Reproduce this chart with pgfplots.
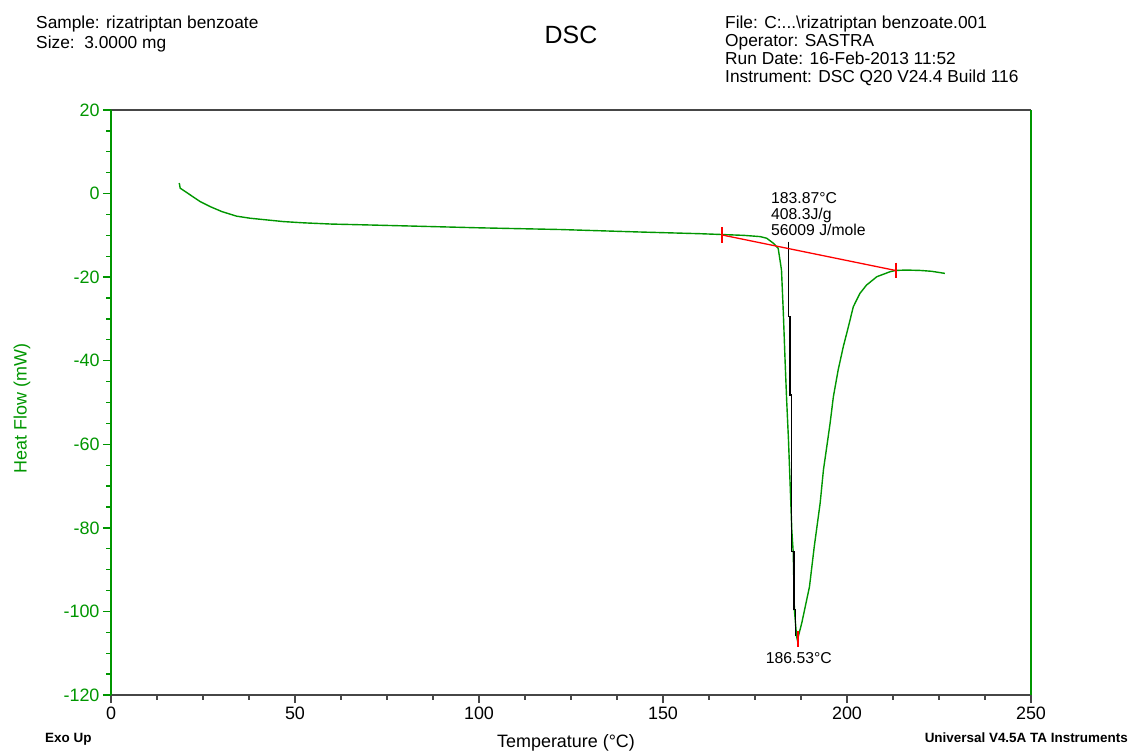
\documentclass[border=0pt]{standalone}
\usepackage{fontspec}
\setmainfont{Liberation Sans}
\usepackage{pgfplots}
\pgfplotsset{compat=1.18}
\definecolor{dscgreen}{RGB}{0,150,0}
\definecolor{axgray}{RGB}{70,70,70}
\definecolor{tickred}{RGB}{255,0,0}
\begin{document}
\begin{tikzpicture}
\useasboundingbox (0,0) rectangle (1129bp,-751bp);
% header
\node[anchor=base west, font=\fontsize{17.4}{17.4}\selectfont, inner sep=0] at (36bp,-28.5bp) {Sample: rizatriptan benzoate};
\node[anchor=base west, font=\fontsize{17.4}{17.4}\selectfont, inner sep=0] at (36bp,-48.5bp) {Size:\ \ 3.0000 mg};
\node[anchor=base, font=\fontsize{25}{25}\selectfont, inner sep=0] at (571bp,-43bp) {DSC};
\node[anchor=base west, font=\fontsize{17.4}{17.4}\selectfont, inner sep=0] at (725bp,-28bp) {File: C:...\textbackslash rizatriptan benzoate.001};
\node[anchor=base west, font=\fontsize{17.4}{17.4}\selectfont, inner sep=0] at (725bp,-46bp) {Operator: SASTRA};
\node[anchor=base west, font=\fontsize{17.4}{17.4}\selectfont, inner sep=0] at (725bp,-64bp) {Run Date: 16-Feb-2013 11:52};
\node[anchor=base west, font=\fontsize{17.4}{17.4}\selectfont, inner sep=0] at (725bp,-82bp) {Instrument: DSC Q20 V24.4 Build 116};
% footer
\node[anchor=base west, font=\bfseries\fontsize{13.5}{13.5}\selectfont, inner sep=0] at (45bp,-742.5bp) {Exo Up};
\node[anchor=base east, font=\bfseries\fontsize{13.5}{13.5}\selectfont, inner sep=0] at (1128bp,-742.5bp) {Universal V4.5A TA Instruments};
\begin{axis}[
  at={(111bp,-695bp)}, anchor=south west,
  scale only axis, width=920bp, height=585bp,
  xmin=0, xmax=250, ymin=-120, ymax=20,
  xtick={0,50,...,250}, ytick={-120,-100,...,20},
  minor x tick num=3, minor y tick num=3,
  xtick pos=bottom, ytick pos=left, tick align=outside,
  major tick length=8bp, minor tick length=4.5bp,
  separate axis lines,
  x axis line style={axgray, line width=1.5bp},
  y axis line style={dscgreen, line width=1.5bp},
  xtick style={axgray, line width=1.3bp},
  ytick style={dscgreen, line width=1.3bp},
  /pgf/number format/assume math mode=true,
  ticklabel style={font=\fontsize{18}{18}\selectfont},
  yticklabel style={dscgreen},
  xlabel={Temperature (°C)},
  xlabel style={at={(axis description cs:0.4946,-0.0889)}, anchor=base, font=\fontsize{18}{18}\selectfont, inner sep=0},
  ylabel={Heat Flow (mW)},
  ylabel style={at={(axis description cs:-0.0967,0.49)}, anchor=center, dscgreen, font=\fontsize{18}{18}\selectfont},
]
\addplot[dscgreen, line width=1.4bp, mark=none] coordinates {
(18.5,2.5) (18.6,2.3) (18.8,1.3) (21.5,-0.3) (24.2,-1.9) (26.9,-3.1) (30.1,-4.3)
(34.1,-5.4) (37.8,-5.9) (42.3,-6.3) (46.8,-6.7) (52.3,-7.0) (60.0,-7.3) (65.0,-7.4)
(78.5,-7.7) (100.3,-8.2) (122,-8.6) (143.8,-9.2) (160,-9.6) (166,-9.8) (172,-10.0)
(176.4,-10.3) (178.2,-10.7) (180.0,-11.9) (181.3,-13.1) (182.2,-18.3) (182.7,-28.6)
(183.2,-40.6) (183.6,-49.4) (184.1,-59.0) (184.5,-68.5) (185.0,-80.5) (185.4,-86.1)
(185.7,-99.6) (186.3,-106.0) (186.5,-106.8) (186.7,-106.2) (187.7,-102.8) (189.8,-94.1)
(191.1,-84.5) (192.7,-74.1) (193.6,-66.1) (194.5,-60.6) (195.4,-55.0) (196.3,-48.6)
(197.6,-42.2) (199.0,-36.6) (200.4,-31.8) (201.7,-27.1) (203.5,-23.9) (205.3,-21.9)
(208.1,-19.9) (211.7,-18.7) (213.2,-18.4) (216,-18.3) (220,-18.4) (223,-18.6) (226.6,-19.1)
};
\addplot[black, line width=1.2bp, mark=none] coordinates {
(184.05,-11.5) (184.05,-29.5) (184.5,-29.5) (184.5,-48.2) (184.97,-48.2) (184.97,-85.7)
(185.6,-85.7) (185.6,-99.6) (186.1,-99.6) (186.1,-105.8)
};
\addplot[tickred, line width=1.3bp, mark=none] coordinates {(166,-9.9) (213.2,-18.4)};
\addplot[tickred, line width=2bp, mark=none] coordinates {(166,-8.0) (166,-11.8)};
\addplot[tickred, line width=2bp, mark=none] coordinates {(213.3,-16.5) (213.3,-20.3)};
\addplot[tickred, line width=2bp, mark=none] coordinates {(186.6,-104.6) (186.6,-108.5)};
\node[anchor=base west, font=\fontsize{15.8}{15.8}\selectfont, inner sep=0] at (axis cs:179.35,-2.32) {183.87°C};
\node[anchor=base west, font=\fontsize{15.8}{15.8}\selectfont, inner sep=0] at (axis cs:179.35,-6.15) {408.3J/g};
\node[anchor=base west, font=\fontsize{15.8}{15.8}\selectfont, inner sep=0] at (axis cs:179.35,-10.07) {56009 J/mole};
\node[anchor=base, font=\fontsize{15.8}{15.8}\selectfont, inner sep=0] at (axis cs:186.9,-112.4) {186.53°C};
\end{axis}
\end{tikzpicture}
\end{document}
